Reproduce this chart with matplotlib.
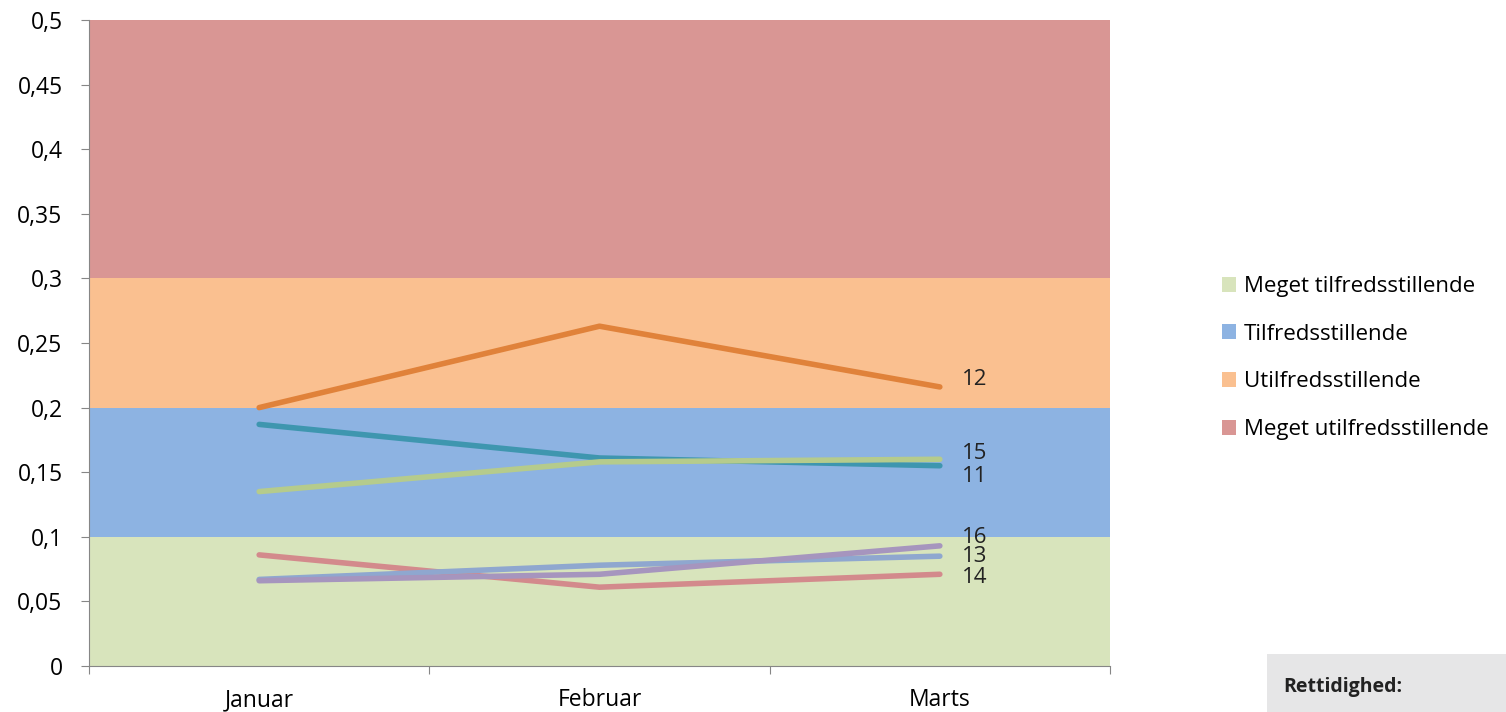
import numpy as np
import matplotlib
matplotlib.use("Agg")
import matplotlib.pyplot as plt
from matplotlib.patches import Patch, Rectangle

plt.rcParams['font.family'] = ['Open Sans', 'DejaVu Sans']

months = ["Januar", "Februar", "Marts"]

# series values
series_names = ["12", "11", "15", "14", "13", "16"]
s12 = [0.200, 0.263, 0.216]
s11 = [0.187, 0.161, 0.155]
s15 = [0.135, 0.158, 0.160]
s14 = [0.086, 0.061, 0.071]
s13 = [0.067, 0.078, 0.085]
s16 = [0.066, 0.071, 0.093]
series_values = [s12, s11, s15, s14, s13, s16]
series_colors = ["#E0823A", "#3E96AF", "#B5CB8C", "#D38A8C", "#8FA7CF", "#A695BE"]
label_offsets = [(0, 5), (0, -8), (0, 4), (0, -2), (0, 0), (0, 6)]

# background bands
band_names = ["Meget tilfredsstillende", "Tilfredsstillende",
              "Utilfredsstillende", "Meget utilfredsstillende"]
band_edges = [0, 0.1, 0.2, 0.3, 0.5]
band_colors = ["#D8E4BC", "#8DB3E2", "#FAC090", "#D99694"]

yticks = [0, 0.05, 0.1, 0.15, 0.2, 0.25, 0.3, 0.35, 0.4, 0.45, 0.5]

fig = plt.figure(figsize=(15.06, 7.12), dpi=100)
ax = fig.add_axes([89 / 1506, 1 - 666 / 712, (1110 - 89) / 1506, (666 - 20) / 712])

for i in range(len(band_names)):
    ax.axhspan(band_edges[i], band_edges[i + 1], color=band_colors[i], lw=0, zorder=0)

x = np.arange(len(months)) + 0.5
for name, vals, col, off in zip(series_names, series_values, series_colors, label_offsets):
    ax.plot(x, vals, color=col, lw=4, solid_capstyle="round",
            solid_joinstyle="round", zorder=3)
    ax.annotate(name, (x[-1], vals[-1]), xytext=(16 + off[0], off[1]),
                textcoords="offset points", va="center", ha="left",
                fontsize=16, color="#222222")

ax.set_xlim(0, 3)
ax.set_ylim(0, 0.5)
ax.set_xticks([0, 1, 2, 3])
ax.set_xticklabels([])
ax.set_xticks(x, minor=True)
ax.set_xticklabels(months, minor=True, fontsize=16.5)
ax.tick_params(axis="x", which="minor", length=0, pad=16)
ax.tick_params(axis="x", which="major", length=6, color="#868686")
ax.set_yticks(yticks)
ax.set_yticklabels([("%g" % t).replace(".", ",") for t in yticks], fontsize=16.5)
ax.tick_params(axis="y", length=6, color="#868686", pad=13)
for sp in ["top", "right"]:
    ax.spines[sp].set_visible(False)
for sp in ["left", "bottom"]:
    ax.spines[sp].set_color("#868686")

handles = [Patch(facecolor=c, edgecolor="none") for c in band_colors]
fig.legend(handles, band_names, loc="center left", bbox_to_anchor=(1202 / 1506, 1 - 358 / 712),
           frameon=False, fontsize=16, handlelength=0.65, handleheight=0.65,
           handletextpad=0.35, labelspacing=1.2)

# gray box lower right
fig.patches.append(Rectangle((1267 / 1506, 0), 1 - 1267 / 1506, 58 / 712,
                             transform=fig.transFigure, facecolor="#E6E6E7",
                             edgecolor="none", zorder=0))
fig.text(1283 / 1506, 1 - 687 / 712, "Rettidighed:", fontsize=14,
         fontweight="bold", va="center", ha="left", color="#222222")

fig.savefig("out.png", dpi=100)
